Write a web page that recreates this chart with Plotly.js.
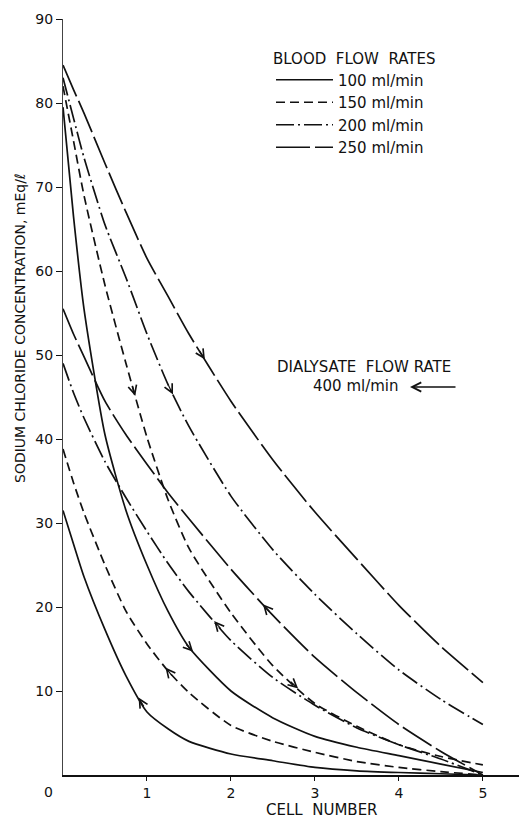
<!DOCTYPE html>
<html><head><meta charset="utf-8">
<script src="https://cdn.plot.ly/plotly-3.0.1.min.js"></script>
<style>html,body{margin:0;padding:0;background:#fff}#chart{width:519px;height:819px}</style>
</head><body><div id="chart"></div>
<script>
// Data
const cellNumber   = [0, 0.125, 0.25, 0.5, 0.75, 1, 1.25, 1.5, 2, 2.5, 3, 3.5, 4, 4.5, 5];
const blood100     = [79.5, 66.5, 55.5, 40.5, 31.5, 25, 19.5, 15.2, 10, 6.8, 4.6, 3.3, 2.3, 1.3, 0.3];
const blood150     = [82, 75.5, 69, 58.3, 49, 40.2, 32.8, 27, 19.3, 13, 8.5, 5.8, 3.6, 2.2, 1.2];
const blood200     = [83, 78.2, 73.5, 65.5, 59.2, 52.5, 46.5, 41.5, 33.2, 26.8, 21.5, 16.8, 12.5, 9, 6];
const blood250     = [84.5, 81.6, 78.8, 72.8, 67, 61.5, 57, 52.5, 44.5, 37.5, 31.3, 25.7, 20.2, 15.3, 11];
const dialysate100 = [31.5, 27.5, 23.6, 17.3, 11.8, 7.5, 5.5, 4.0, 2.5, 1.7, 0.9, 0.5, 0.3, 0.15, 0];
const dialysate150 = [38.8, 34.8, 31.2, 25, 19.5, 15.6, 12.4, 9.8, 5.9, 4, 2.7, 1.6, 0.9, 0.4, 0];
const dialysate200 = [49, 45.5, 42.5, 37.3, 33, 29, 25.2, 21.8, 16, 11.6, 8.3, 5.6, 3.6, 1.9, 0];
const dialysate250 = [55.5, 52.5, 49.8, 44.5, 40.5, 37, 33.6, 30.5, 24.5, 19, 14, 9.8, 6, 2.8, 0];
const flowLabels   = ['100 ml/min', '150 ml/min', '200 ml/min', '250 ml/min'];
const bloodArrowCells     = [[1.55], [0.86, 2.8], [1.31], [1.69]];
const dialysateArrowCells = [[0.9], [1.22], [1.8], [2.38]];
const xTickVals = [1, 2, 3, 4, 5];
const yTickVals = [10, 20, 30, 40, 50, 60, 70, 80, 90];

const bloodSeries = [blood100, blood150, blood200, blood250];
const dialysateSeries = [dialysate100, dialysate150, dialysate200, dialysate250];
const dashes = ['solid', '9px,5px', '18px,4px,2px,4px', '34px,5px'];
const INK = '#111';
const FONT = 'DejaVu Sans, sans-serif';

const W = 519, H = 819, ML = 63, MR = 0, MT = 19, MB = 44;
const XMAX = 5.43, YMAX = 90;
const pxX = (W - ML - MR) / XMAX, pxY = (H - MT - MB) / YMAX;

function interp(ys, c) {
  for (let i = 0; i < cellNumber.length - 1; i++) {
    const a = cellNumber[i], b = cellNumber[i + 1];
    if (c >= a && c <= b) return ys[i] + (ys[i + 1] - ys[i]) * (c - a) / (b - a);
  }
  return ys[ys.length - 1];
}

const traces = [];
bloodSeries.forEach((ys, i) => traces.push({
  x: cellNumber, y: ys, type: 'scatter', mode: 'lines', name: flowLabels[i],
  legendgroup: 'g' + i, showlegend: true,
  line: {color: INK, width: 1.7, dash: dashes[i], shape: 'spline', smoothing: 0.6},
  hoverinfo: 'skip'
}));
dialysateSeries.forEach((ys, i) => traces.push({
  x: cellNumber, y: ys, type: 'scatter', mode: 'lines', name: flowLabels[i] + ' dialysate',
  legendgroup: 'g' + i, showlegend: false,
  line: {color: INK, width: 1.7, dash: dashes[i], shape: 'spline', smoothing: 0.6},
  hoverinfo: 'skip'
}));

const annotations = [];
function addArrow(ys, c, forward) {
  const y = interp(ys, c);
  const s = (interp(ys, c + 0.05) - interp(ys, c - 0.05)) / 0.1;
  let ux = pxX, uy = -s * pxY;
  const n = Math.hypot(ux, uy); ux /= n; uy /= n;
  const L = 12, k = forward ? -1 : 1;
  annotations.push({x: c, y: y, xref: 'x', yref: 'y', text: '', showarrow: true,
    ax: k * L * ux, ay: k * L * uy, arrowhead: 5, arrowsize: 1.4, arrowwidth: 1.2,
    arrowcolor: INK, standoff: 0});
}
bloodSeries.forEach((ys, i) => bloodArrowCells[i].forEach(c => addArrow(ys, c, true)));
dialysateSeries.forEach((ys, i) => dialysateArrowCells[i].forEach(c => addArrow(ys, c, false)));

const txt = (t, x, y, size, extra) => Object.assign({text: t, x: x, y: y, xref: 'paper', yref: 'paper',
  showarrow: false, font: {family: FONT, size: size, color: INK}}, extra || {});

annotations.push(txt('SODIUM\u00a0CHLORIDE\u00a0CONCENTRATION,\u00a0mEq/\u2113', (20 - ML) / (W - ML - MR), 1 - (328 - MT) / (H - MT - MB), 14,
  {textangle: -90, xanchor: 'center', yanchor: 'middle'}));
annotations.push(txt('CELL\u00a0\u00a0NUMBER', (322 - ML) / (W - ML - MR), 1 - (810 - MT) / (H - MT - MB), 15,
  {xanchor: 'center', yanchor: 'middle'}));
annotations.push(txt('0', (48 - ML) / (W - ML - MR), 1 - (792 - MT) / (H - MT - MB), 14,
  {xanchor: 'center', yanchor: 'middle'}));
annotations.push(txt('DIALYSATE\u00a0\u00a0FLOW\u00a0RATE', (275 - ML) / (W - ML - MR), 1 - (367 - MT) / (H - MT - MB), 15,
  {xanchor: 'left', yanchor: 'middle'}));
annotations.push(txt('400\u00a0ml/min', (311 - ML) / (W - ML - MR), 1 - (386 - MT) / (H - MT - MB), 15,
  {xanchor: 'left', yanchor: 'middle'}));
annotations.push({x: (410 - ML) / (W - ML - MR), y: 1 - (387 - MT) / (H - MT - MB), xref: 'paper', yref: 'paper',
  text: '', showarrow: true, ax: 47, ay: 0, arrowhead: 5, arrowsize: 1.4, arrowwidth: 1.3, arrowcolor: INK, standoff: 0});

const layout = {
  width: W, height: H,
  margin: {l: ML, r: MR, t: MT, b: MB, pad: 0},
  paper_bgcolor: '#fff', plot_bgcolor: '#fff',
  font: {family: FONT, size: 14, color: INK},
  showlegend: true,
  legend: {
    x: (271 - ML) / (W - ML - MR), y: 1 - (44 - MT) / (H - MT - MB), xanchor: 'left', yanchor: 'top',
    bgcolor: 'rgba(0,0,0,0)', borderwidth: 0, itemwidth: 57,
    font: {family: FONT, size: 15, color: INK}, tracegroupgap: 0,
    title: {text: 'BLOOD\u00a0\u00a0FLOW\u00a0\u00a0RATES', font: {family: FONT, size: 15, color: INK}, side: 'top'}
  },
  xaxis: {
    range: [0, XMAX], tickvals: xTickVals, ticktext: xTickVals.map(String),
    showgrid: false, zeroline: false, showline: true, linecolor: INK, linewidth: 2,
    ticks: 'outside', ticklen: 4, tickwidth: 1, tickcolor: INK,
    tickfont: {family: FONT, size: 14, color: INK}, fixedrange: true
  },
  yaxis: {
    range: [0, YMAX], tickvals: yTickVals, ticktext: yTickVals.map(String),
    showgrid: false, zeroline: false, showline: true, linecolor: '#444', linewidth: 1,
    ticks: 'outside', ticklen: 6, tickwidth: 1, tickcolor: INK,
    tickfont: {family: FONT, size: 14, color: INK}, fixedrange: true
  },
  annotations: annotations
};

Plotly.newPlot('chart', traces, layout, {staticPlot: true, displayModeBar: false});
</script>
</body></html>
